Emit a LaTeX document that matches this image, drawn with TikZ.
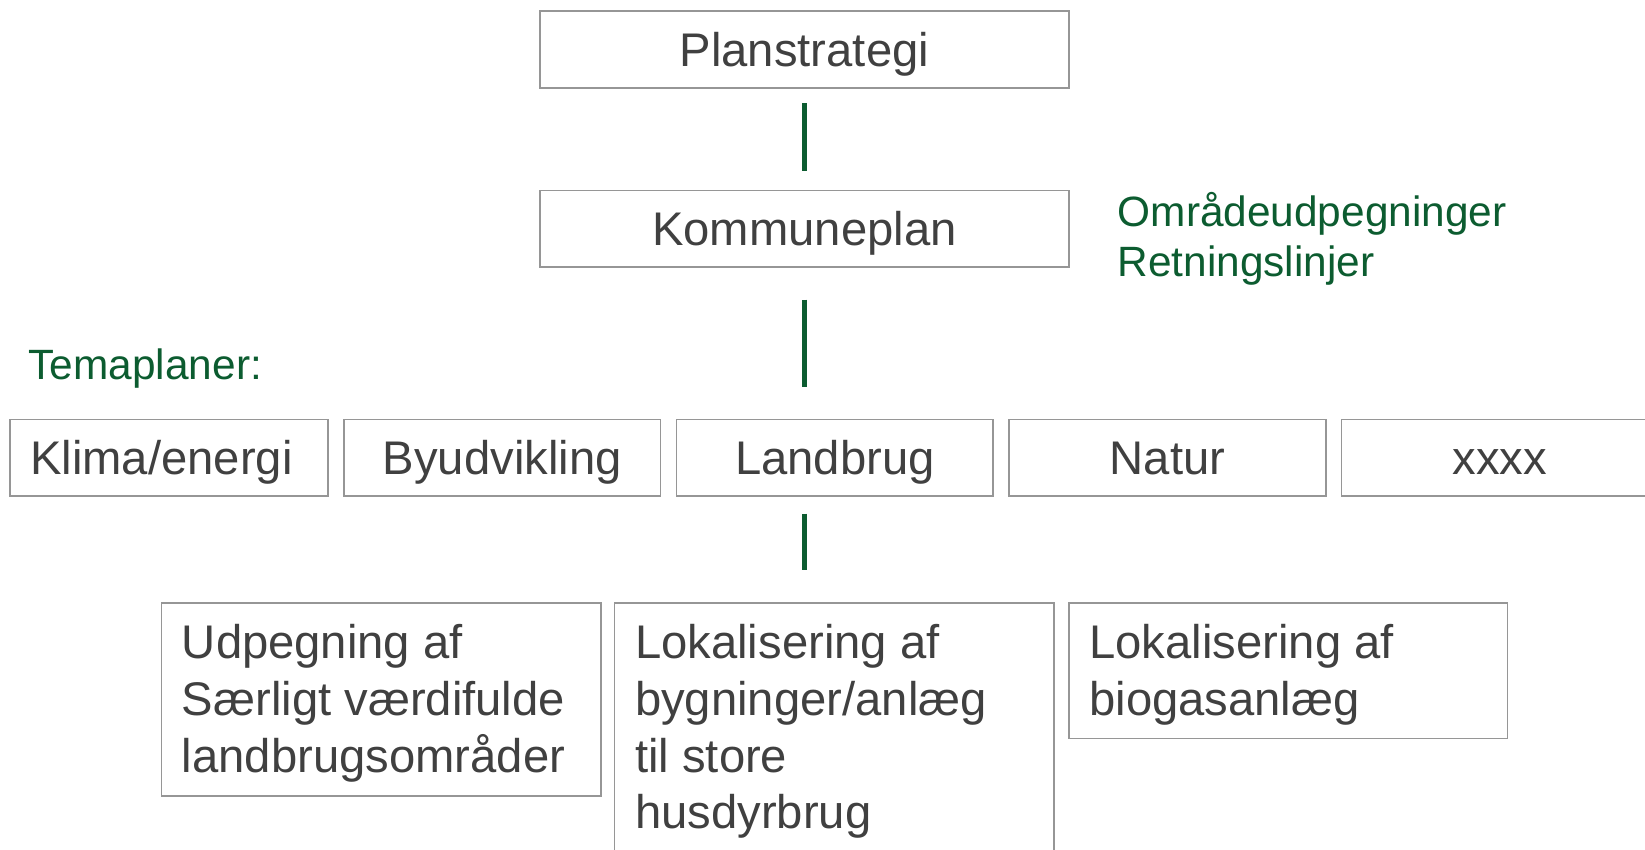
\documentclass[tikz,border=0pt]{standalone}
\usepackage{fontspec}
\setmainfont{Liberation Sans}
\definecolor{txt}{RGB}{64,64,64}
\definecolor{bord}{RGB}{150,150,150}
\definecolor{grn}{RGB}{12,92,48}
\begin{document}
\begin{tikzpicture}[x=0.5pt,y=-0.5pt,
  box/.style={draw=bord, line width=0.75pt, inner sep=0pt, text=txt,
    font=\fontsize{22.5pt}{27pt}\selectfont, text height=20pt, text depth=4pt, anchor=north west},
  topbox/.style={box, minimum width=252pt, minimum height=36.5pt},
  rowbox/.style={box, minimum width=151pt, minimum height=36.5pt},
  emptybox/.style={draw=bord, line width=0.75pt, inner sep=0pt, anchor=north west},
  btext/.style={inner sep=0pt, text=txt, align=left, anchor=base west,
    font=\fontsize{22.5pt}{27pt}\selectfont},
  gtext/.style={inner sep=0pt, text=grn, align=left, anchor=base west,
    font=\fontsize{20.2pt}{24pt}\selectfont},
  conn/.style={draw=grn, line width=2pt}
]
\useasboundingbox (0,0) rectangle (1568,810);
\clip (0,0) rectangle (1568,810);

\node[topbox] (plan) at (514,10) {Planstrategi};
\node[topbox] (komm) at (514,181) {Kommuneplan};
\node[gtext] (omr) at (1065,264) {Områdeudpegninger\\Retningslinjer};
\node[gtext] (tema) at (27,362) {Temaplaner:};

\node[rowbox, minimum width=151.5pt, inner xsep=0pt, text width=132.5pt, align=left] (klima) at (9,399) {Klima/energi};
\node[rowbox] (byud) at (327,399) {Byudvikling};
\node[rowbox] (land) at (644,399) {Landbrug};
\node[rowbox] (natur) at (961,399) {Natur};
\node[rowbox] (xxxx) at (1278,399) {xxxx};

\node[emptybox, minimum width=209.5pt, minimum height=92pt] (b1) at (153,574) {};
\node[emptybox, minimum width=209.5pt, minimum height=125pt] (b2) at (585,574) {};
\node[emptybox, minimum width=209pt, minimum height=64.5pt] (b3) at (1018,574) {};

\node[btext] (t1) at (173,736) {Udpegning af\\Særligt værdifulde\\landbrugsområder};
\node[btext] (t2) at (605,790) {Lokalisering af\\bygninger/anlæg\\til store\\husdyrbrug};
\node[btext] (t3) at (1038,682) {Lokalisering af\\biogasanlæg};

\coordinate (c2) at (komm.south |- land.north);
\coordinate (c3) at (komm.south |- land.south);
\coordinate (c4) at (komm.south |- b1.north);

\draw[conn] ([yshift=-7pt]plan.south) -- ([yshift=9pt]komm.north);
\draw[conn] ([yshift=-15pt]komm.south) -- ([yshift=15pt]c2);
\draw[conn] ([yshift=-8pt]c3) -- ([yshift=15.5pt]c4);
\end{tikzpicture}
\end{document}
